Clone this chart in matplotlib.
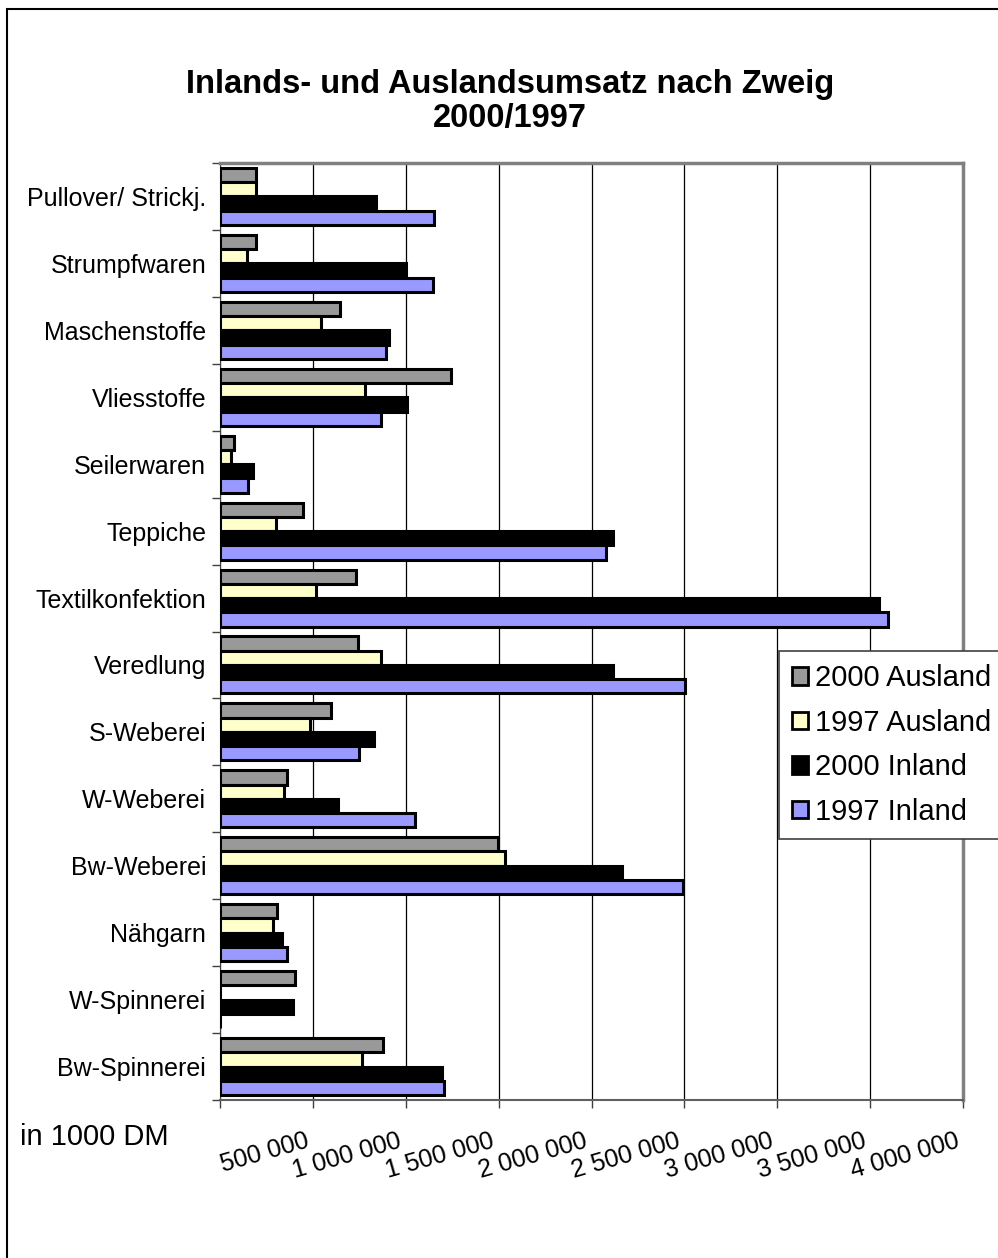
import numpy as np
import matplotlib
matplotlib.use('Agg')
from matplotlib import pyplot as plt
import matplotlib.patches as mpatches
import matplotlib.transforms as mtransforms
from matplotlib.ticker import FuncFormatter, FixedLocator

plt.rcParams['font.family'] = ['Liberation Sans', 'DejaVu Sans']

# Daten (in 1000 DM), Reihenfolge von oben nach unten
zweige = ['Pullover/ Strickj.', 'Strumpfwaren', 'Maschenstoffe', 'Vliesstoffe',
          'Seilerwaren', 'Teppiche', 'Textilkonfektion', 'Veredlung',
          'S-Weberei', 'W-Weberei', 'Bw-Weberei', 'Nähgarn', 'W-Spinnerei',
          'Bw-Spinnerei']
ausland_2000 = [193000, 193000, 644000, 1246000, 77000, 447000, 733000, 744000,
                596000, 361000, 1495000, 307000, 404000, 878000]
ausland_1997 = [193000, 143000, 546000, 783000, 59000, 304000, 519000, 869000,
                483000, 345000, 1534000, 286000, 0, 766000]
inland_2000 = [840000, 1002000, 908000, 1009000, 175000, 2114000, 3546000, 2114000,
               828000, 635000, 2164000, 333000, 393000, 1193000]
inland_1997 = [1150000, 1148000, 891000, 869000, 150000, 2078000, 3595000, 2504000,
               746000, 1052000, 2491000, 363000, 0, 1207000]

serien = [('2000 Ausland', ausland_2000, '#999999'),
          ('1997 Ausland', ausland_1997, '#FFFFCC'),
          ('2000 Inland', inland_2000, '#000000'),
          ('1997 Inland', inland_1997, '#9999FF')]

fig = plt.figure(figsize=(9.98, 12.58), dpi=100)
ax = fig.add_axes([220/998, 1-1100/1258, (963-220)/998, (1100-163)/1258])

y = np.arange(len(zweige))
h = 0.213
offsets = [-1.5*h, -0.5*h, 0.5*h, 1.5*h]
handles = []
for (name, werte, farbe), off in zip(serien, offsets):
    ax.barh(y + off, werte, height=h, color=farbe, edgecolor='black',
            linewidth=2.2, zorder=3)
    handles.append(mpatches.Patch(facecolor=farbe, edgecolor='black',
                                  linewidth=2, label=name))

ax.set_xlim(0, 4000000)
ax.set_ylim(len(zweige) - 0.5, -0.5)

# x-Achse
xt = np.arange(0, 4000001, 500000)
ax.set_xticks(xt)
ax.xaxis.set_major_formatter(FuncFormatter(
    lambda v, p: '' if v == 0 else '{:,.0f}'.format(v).replace(',', ' ')))
ax.tick_params(axis='x', length=6, width=1, color='#404040', pad=15)
ax.grid(axis='x', color='black', linewidth=0.9, zorder=0)

# y-Achse: Striche an Gruppengrenzen, Beschriftung in der Mitte
ax.yaxis.set_major_locator(FixedLocator(np.arange(-0.5, len(zweige), 1.0)))
ax.yaxis.set_minor_locator(FixedLocator(y))
ax.set_yticklabels([])
ax.set_yticklabels(zweige, minor=True, fontsize=18)
ax.tick_params(axis='y', which='major', length=6, width=1, color='#404040')
ax.tick_params(axis='y', which='minor', length=0, pad=10)

verschub = mtransforms.ScaledTranslation(-8/100, 0, fig.dpi_scale_trans)
for lab in ax.get_xticklabels():
    lab.set_rotation(16)
    lab.set_ha('right')
    lab.set_va('top')
    lab.set_rotation_mode('anchor')
    lab.set_fontsize(18)
    lab.set_transform(lab.get_transform() + verschub)

for s in ['top', 'right']:
    ax.spines[s].set_color('#808080')
    ax.spines[s].set_linewidth(2.5)
ax.spines['left'].set_color('#404040')
ax.spines['bottom'].set_color('#606060')
ax.spines['bottom'].set_linewidth(1.5)

leg = fig.legend(handles=handles, loc='upper left',
                 bbox_to_anchor=(779/998, 1-651/1258), fontsize=21,
                 handlelength=0.55, handleheight=0.55, handletextpad=0.25,
                 labelspacing=0.57, borderpad=0.45, borderaxespad=0,
                 fancybox=False, framealpha=1)
leg.get_frame().set_edgecolor('#404040')
leg.get_frame().set_linewidth(1.2)

fig.text(510/998, 1-84/1258, 'Inlands- und Auslandsumsatz nach Zweig',
         ha='center', va='center', fontsize=23.5, fontweight='bold')
fig.text(510/998, 1-118/1258, '2000/1997',
         ha='center', va='center', fontsize=23.5, fontweight='bold')
fig.text(20/998, 1-1137/1258, 'in 1000 DM', ha='left', va='center', fontsize=21)

# Rahmen des Diagrammbereichs
rahmen = mpatches.Rectangle((7/998, -0.1), 1.2, 1 - 9/1258 + 0.1,
                            transform=fig.transFigure, fill=False,
                            edgecolor='black', linewidth=1.5, clip_on=False)
fig.patches.append(rahmen)

fig.savefig('out.png', dpi=100)
